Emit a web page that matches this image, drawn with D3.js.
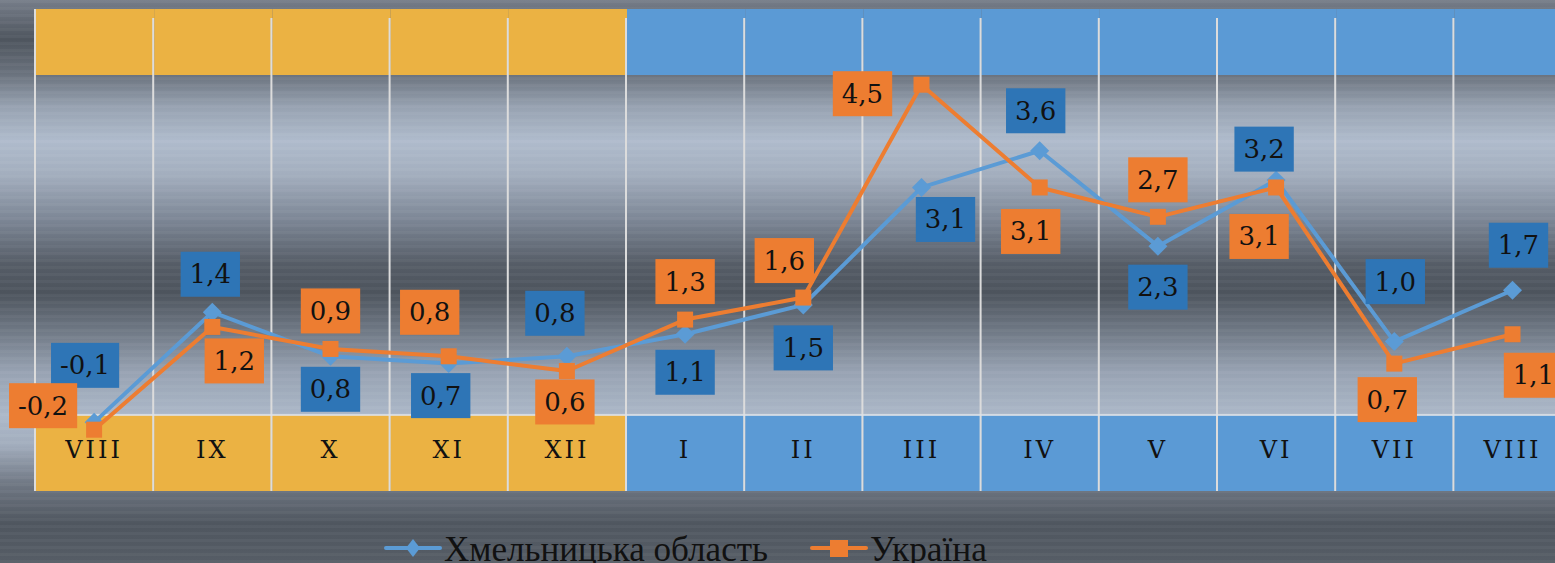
<!DOCTYPE html>
<html><head><meta charset="utf-8">
<script src="https://cdn.jsdelivr.net/npm/d3@7/dist/d3.min.js"></script>
<style>html,body{margin:0;padding:0;background:#5a616b;overflow:hidden}</style>
</head><body><svg id="c" width="1555" height="563"></svg>
<script>
const categories = ["VIII","IX","X","XI","XII","I","II","III","IV","V","VI","VII","VIII"];
const periodYear = ["2016","2016","2016","2016","2016","2017","2017","2017","2017","2017","2017","2017","2017"];
const regionValues = [-0.1,1.4,0.8,0.7,0.8,1.1,1.5,3.1,3.6,2.3,3.2,1.0,1.7];
const ukraineValues = [-0.2,1.2,0.9,0.8,0.6,1.3,1.6,4.5,3.1,2.7,3.1,0.7,1.1];
const seriesNames = ["Хмельницька область","Україна"];

// label placement offsets (layout only)
const regionLabelOffsets = [[-9,-57],[-2,-38],[0,33],[-8,32],[-12,-43],[0,38],[0,43],[24,32],[-4,-40],[0,41],[-12,-31],[1,-60],[6,-45]];
const ukraineLabelOffsets = [[-51,-24],[22,34],[0,-38],[-19,-44],[-2,31],[0,-38],[-19,-37],[-59,9],[-9,44],[0,-37],[-17,49],[-7,36],[21,41]];

const W = 1555, H = 563;
const svg = d3.select("#c");
const defs = svg.append("defs");
const bg = defs.append("linearGradient").attr("id","bg").attr("x1",0).attr("y1",0).attr("x2",0).attr("y2",1);
[[0,"#767d89"],[0.07,"#4e555e"],[0.13,"#69717c"],[0.19,"#97a2b1"],[0.25,"#afbbcc"],[0.31,"#a3aebe"],[0.39,"#7c8695"],[0.47,"#555c66"],[0.52,"#4d545d"],[0.58,"#6b7480"],[0.66,"#97a2b2"],[0.74,"#acb8c9"],[0.79,"#a2adbd"],[0.86,"#6f7783"],[0.93,"#4f565f"],[1,"#565d66"]]
  .forEach(s => bg.append("stop").attr("offset",s[0]).attr("stop-color",s[1]));
const pat = defs.append("pattern").attr("id","stripes").attr("width",10).attr("height",7).attr("patternUnits","userSpaceOnUse");
pat.append("rect").attr("width",10).attr("height",3).attr("fill","#ffffff").attr("opacity",0.035);
svg.append("rect").attr("width",W).attr("height",H).attr("fill","url(#bg)");
svg.append("rect").attr("width",W).attr("height",H).attr("fill","url(#stripes)");

const colW = 118.2, left = 35;
const x = d3.scaleBand().domain(d3.range(categories.length)).range([left, left + colW*categories.length]).padding(0);
const y = d3.scaleLinear().domain([0, 4.5]).range([415, 415 - 4.5*73.4]);
const bandColor = d3.scaleOrdinal().domain(["2016","2017"]).range(["#ebb243","#5b9ad5"]);
const fmt = d3.formatLocale({decimal:",",thousands:" ",grouping:[3],currency:["",""],minus:"-"}).format(".1f");

// top band
svg.append("g").selectAll("rect").data(categories).join("rect")
  .attr("x",(d,i)=>x(i)+1).attr("width",x.bandwidth()).attr("y",9).attr("height",66)
  .attr("fill",(d,i)=>bandColor(periodYear[i]));
// bottom band
svg.append("g").selectAll("rect").data(categories).join("rect")
  .attr("x",(d,i)=>x(i)+1).attr("width",x.bandwidth()).attr("y",y(0)).attr("height",491-y(0))
  .attr("fill",(d,i)=>bandColor(periodYear[i]));

// vertical gridlines
svg.append("g").selectAll("line").data(d3.range(categories.length+1)).join("line")
  .attr("x1",i=>left+i*colW).attr("x2",i=>left+i*colW)
  .attr("y1",i=>i===0?9:18).attr("y2",491)
  .attr("stroke","#dcdcdc").attr("stroke-width",2);
// zero line
svg.append("line").attr("x1",left).attr("x2",W).attr("y1",y(0)).attr("y2",y(0))
  .attr("stroke","#dfe3e8").attr("stroke-width",2).attr("opacity",0.8);

// category axis
const axis = d3.axisBottom(x).tickSize(0).tickPadding(0).tickFormat(i=>categories[i]);
const ag = svg.append("g").attr("transform","translate(0,441)").call(axis);
ag.select(".domain").remove();
ag.selectAll("text").attr("font-family","'DejaVu Serif', serif").attr("font-size",24)
  .attr("letter-spacing",3).attr("fill","#111");

const cx = i => x(i) + x.bandwidth()/2;
const line = d3.line().x((d,i)=>cx(i)).y(d=>y(d));

const series = [
  {vals: regionValues, line:"#5b9bd5", box:"#2e75b6", marker:"diamond", offs: regionLabelOffsets},
  {vals: ukraineValues, line:"#ed7d31", box:"#ed7d31", marker:"square", offs: ukraineLabelOffsets}
];

series.forEach(s => {
  svg.append("path").datum(s.vals).attr("d",line).attr("fill","none")
    .attr("stroke",s.line).attr("stroke-width",4).attr("stroke-linejoin","round");
  svg.append("g").selectAll("path").data(s.vals).join("path")
    .attr("d", s.marker==="diamond" ? d3.symbol(d3.symbolSquare,180)() : d3.symbol(d3.symbolSquare,256)())
    .attr("transform",(d,i)=>`translate(${cx(i)},${y(d)})` + (s.marker==="diamond"?" rotate(45)":""))
    .attr("fill",s.line);
});

// labels (drawn after all lines)
series.forEach(s => {
  const g = svg.append("g");
  s.vals.forEach((v,i) => {
    const lx = cx(i) + s.offs[i][0], ly = y(v) + s.offs[i][1];
    const t = g.append("text").text(fmt(v)).attr("x",lx).attr("y",ly+9)
      .attr("text-anchor","middle").attr("font-family","'DejaVu Serif', serif")
      .attr("font-size",26).attr("fill","#111");
    const w = t.node().getComputedTextLength() + 18;
    g.insert("rect","text").attr("x",lx-w/2).attr("y",ly-22.5).attr("width",w).attr("height",45).attr("fill",s.box);
  });
});

// legend
const lg = svg.append("g");
const legendItems = [
  {name: seriesNames[0], color:"#5b9bd5", x0:386, tx:444, tl:324, m:"diamond"},
  {name: seriesNames[1], color:"#ed7d31", x0:812, tx:870, tl:117, m:"square"}
];
legendItems.forEach(it => {
  lg.append("line").attr("x1",it.x0).attr("x2",it.x0+54).attr("y1",548).attr("y2",548)
    .attr("stroke",it.color).attr("stroke-width",4).attr("stroke-linecap","round");
  const mx = it.x0+27;
  if (it.m==="diamond") {
    lg.append("path").attr("d",`M${mx},${539} L${mx+7},${548} L${mx},${557} L${mx-7},${548} Z`).attr("fill",it.color);
  } else {
    lg.append("rect").attr("x",mx-9).attr("y",540).attr("width",18).attr("height",17).attr("fill",it.color);
  }
  lg.append("text").text(it.name).attr("x",it.tx).attr("y",561)
    .attr("font-family","'Liberation Serif', serif").attr("font-size",36)
    .attr("textLength",it.tl).attr("lengthAdjust","spacingAndGlyphs").attr("fill","#111");
});
</script></body></html>
